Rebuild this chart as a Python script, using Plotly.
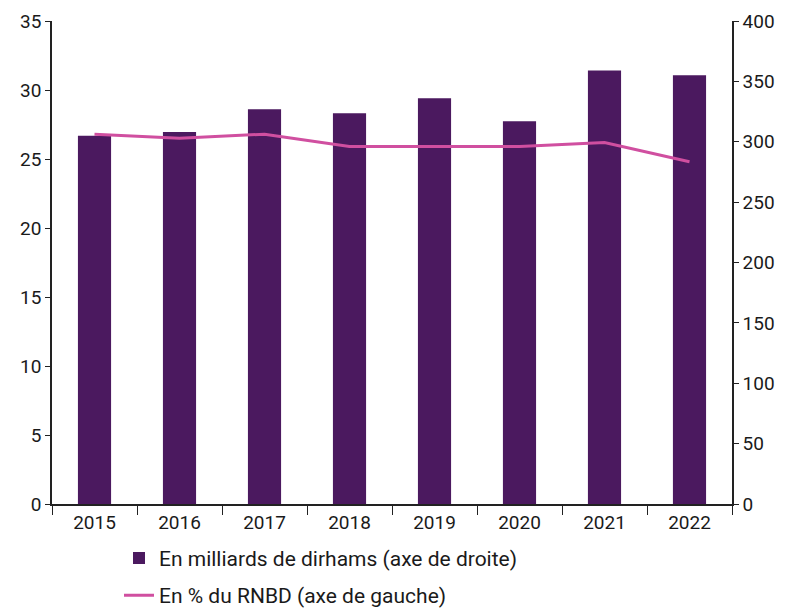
import plotly.graph_objects as go

years = ["2015", "2016", "2017", "2018", "2019", "2020", "2021", "2022"]
milliards_dh = [305, 308, 327, 323.5, 336, 317, 359, 355]   # right axis
pct_rnbd = [26.8, 26.5, 26.8, 25.9, 25.9, 25.9, 26.2, 24.8]  # left axis

left_ticks = [0, 5, 10, 15, 20, 25, 30, 35]
right_ticks = [0, 50, 100, 150, 200, 250, 300, 350, 400]

FONT = "Roboto"
TXT = "#1a1a1a"

fig = go.Figure()
# bars on the base axis (drawn right), line on the overlaying axis so it sits on top
fig.add_trace(go.Bar(
    x=years, y=milliards_dh, yaxis="y",
    name="En milliards de dirhams (axe de droite)",
    legendgroup="a",
    marker=dict(color="#4b195f", line=dict(width=0)),
    width=0.39,
))
fig.add_trace(go.Scatter(
    x=years, y=pct_rnbd, yaxis="y2", mode="lines",
    name="En % du RNBD (axe de gauche)",
    legendgroup="b",
    line=dict(color="#d04fa0", width=3),
))

fig.update_layout(
    width=789, height=610,
    margin=dict(l=52, r=57, t=21, b=106, autoexpand=False),
    plot_bgcolor="white", paper_bgcolor="white",
    font=dict(family=FONT, size=19, color=TXT),
    showlegend=True,
    legend=dict(
        x=(119 - 52) / 680, y=-0.07, xanchor="left", yanchor="top",
        orientation="v", font=dict(size=21, family=FONT, color=TXT),
        tracegroupgap=7, itemwidth=30, bgcolor="rgba(0,0,0,0)",
    ),
    bargap=0.61,
    xaxis=dict(
        type="category", showgrid=False, showline=True, linecolor="#222",
        linewidth=1.5, ticks="outside", tickson="boundaries", ticklen=9,
        tickcolor="#222", tickfont=dict(size=19, family=FONT, color=TXT),
        zeroline=False,
    ),
    yaxis=dict(
        side="right", range=[0, 400], tickvals=right_ticks,
        showgrid=False, zeroline=False, showline=True, linecolor="#222",
        linewidth=1.5, ticks="outside", ticklen=5, tickcolor="#222",
        tickfont=dict(size=19, family=FONT, color=TXT),
    ),
    yaxis2=dict(
        overlaying="y", side="left", range=[0, 35], tickvals=left_ticks,
        showgrid=False, zeroline=False, showline=True, linecolor="#222",
        linewidth=1.5, ticks="outside", ticklen=5, tickcolor="#222",
        tickfont=dict(size=19, family=FONT, color=TXT),
    ),
)

fig.write_html("out.html")
